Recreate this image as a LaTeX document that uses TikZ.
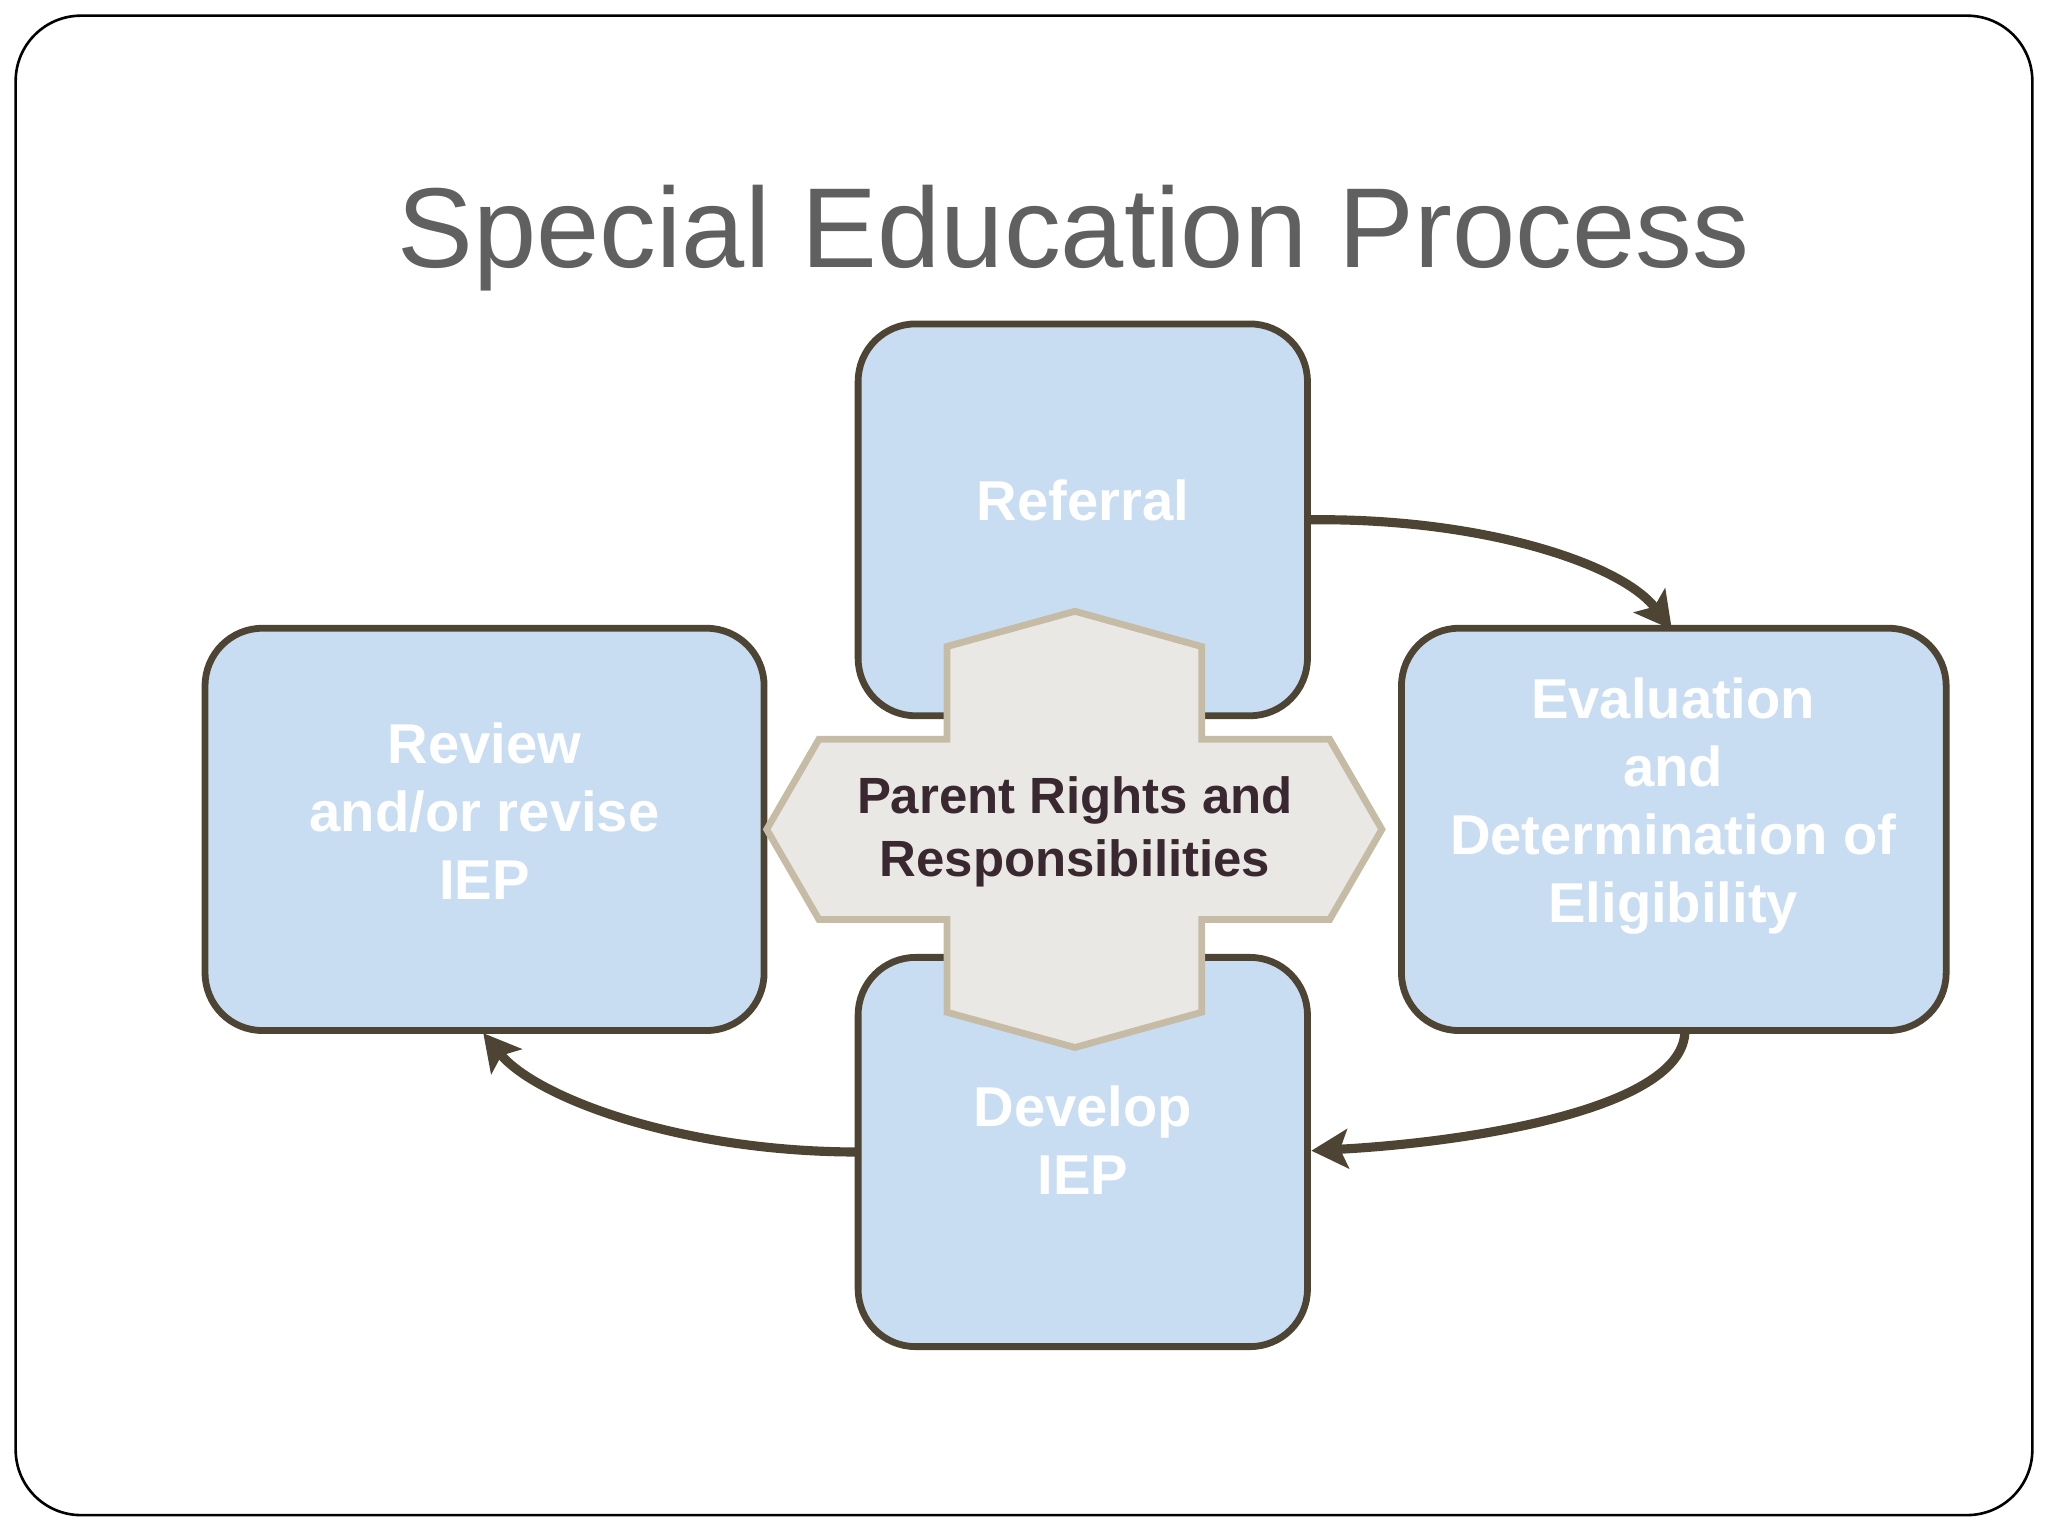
\documentclass[tikz,border=0pt]{standalone}
\usepackage{fontspec}
\setmainfont{Liberation Sans}
\usetikzlibrary{arrows.meta}
\definecolor{boxfill}{HTML}{C9DDF2}
\definecolor{boxline}{HTML}{4E4434}
\definecolor{crossfill}{HTML}{E9E8E4}
\definecolor{crossline}{HTML}{C6BBA5}
\definecolor{titlegray}{HTML}{606060}
\definecolor{ctext}{HTML}{3A2830}
\tikzset{
  stepbox/.style={draw=boxline,line width=2.6pt,fill=boxfill,rounded corners=22pt},
  boxtext/.style={text=white,font=\bfseries\fontsize{21.5}{26}\selectfont,align=center},
  flow/.style={draw=boxline,line width=3.5pt,-{Stealth[length=14pt,width=15pt,inset=3pt]}}
}
\begin{document}
\begin{tikzpicture}[x=0.5pt,y=-0.5pt]
\useasboundingbox (0,0) rectangle (1568,1176);
\fill[white] (0,0) rectangle (1568,1176);
\draw[black,line width=1pt,rounded corners=25pt] (12,12) rectangle (1556,1160);
\node[text=titlegray,font=\fontsize{43.5}{52}\selectfont] (title) at (822,182) {Special Education Process};
\draw[stepbox] (657,248) rectangle (1001,548);
\draw[stepbox] (157,481) rectangle (585,789);
\draw[stepbox] (1073,481) rectangle (1490,789);
\draw[stepbox] (657,733) rectangle (1001,1031);
\node[boxtext] (ref) at (829,383) {Referral};
\node[boxtext] (rev) at (371,621) {Review\\and/or revise\\IEP};
\node[boxtext] (eva) at (1281,617) {Evaluation\\and\\Determination of\\Eligibility};
\node[boxtext] (dev) at (829,873) {Develop\\IEP};
\coordinate (refR) at (1001,398);
\coordinate (evaT) at (1280,482);
\coordinate (evaB) at (1290,789);
\coordinate (devR) at (1004,881);
\coordinate (devL) at (657,882);
\coordinate (revB) at (370,791);
\draw[crossline,line width=2.6pt,fill=crossfill]
 (823,468) -- (920,495) -- (920,566) -- (1018,566) -- (1058,635) -- (1018,704)
 -- (920,704) -- (920,775) -- (823,802) -- (725,775) -- (725,704) -- (627,704)
 -- (587,635) -- (627,566) -- (725,566) -- (725,495) -- cycle;
\node[text=ctext,font=\bfseries\fontsize{19.5}{24}\selectfont,align=center] (par) at (823,637) {Parent Rights and\\Responsibilities};
\draw[flow] (refR) .. controls (1130,396) and (1240,430) .. (evaT);
\draw[flow] (evaB) .. controls (1290,850) and (1120,875) .. (devR);
\draw[flow] (devL) .. controls (520,882) and (410,840) .. (revB);
\end{tikzpicture}
\end{document}
